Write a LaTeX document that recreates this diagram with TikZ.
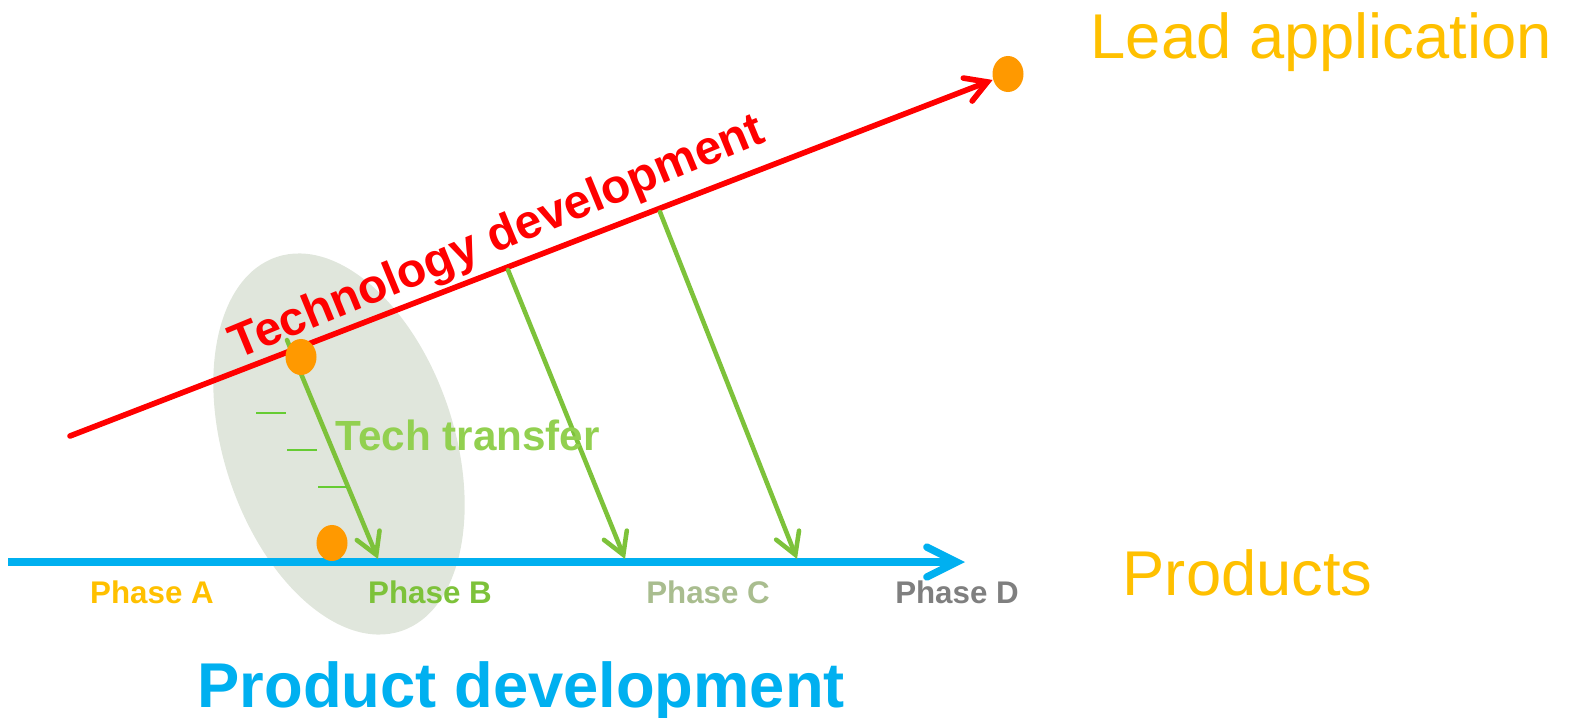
\documentclass[tikz,border=0pt]{standalone}
\usepackage{fontspec}
\setmainfont{Liberation Sans}
\usetikzlibrary{arrows.meta,shapes.geometric}
\definecolor{tred}{HTML}{FF0000}
\definecolor{pblue}{HTML}{00B0F0}
\definecolor{gold}{HTML}{FFC000}
\definecolor{dotorange}{HTML}{FF9900}
\definecolor{garrow}{HTML}{7DC23A}
\definecolor{gtext}{HTML}{92D050}
\definecolor{phB}{HTML}{7DC23A}
\definecolor{phC}{HTML}{A9BD8F}
\definecolor{phD}{HTML}{7F7F7F}
\definecolor{blob}{HTML}{E0E6DC}
\definecolor{dashg}{HTML}{66CC33}
\tikzset{
  dotnode/.style={ellipse, fill=dotorange, draw=none, minimum width=0.31cm, minimum height=0.36cm, inner sep=0pt},
  redarrow/.style={draw=tred, line width=1.6pt, line cap=round, -{Straight Barb[length=6pt,width=7pt,line cap=round]}},
  greenarrow/.style={draw=garrow, line width=1.3pt, line cap=round, -{Straight Barb[length=6pt,width=7pt,line cap=round]}},
  bluearrow/.style={draw=pblue, line width=2.1pt, -{Straight Barb[length=8.5pt,width=8.5pt,line cap=round]}},
  phaselbl/.style={font=\bfseries\fontsize{8.9pt}{10pt}\selectfont, anchor=base, inner sep=0pt},
  ticks/.style={draw=dashg, line width=0.6pt}
}
\begin{document}
\begin{tikzpicture}[x=0.01cm,y=-0.01cm]
\useasboundingbox (0,0) rectangle (1569,718);
% grey-green ellipse
\node[ellipse, fill=blob, draw=none, minimum width=3.94cm, minimum height=2.30cm, inner sep=0pt, rotate=-71.6] (blobnode) at (339,444) {};
% technology line
\coordinate (tstart) at (70,436);
\node[dotnode] (lead) at (1008,74) {};
\draw[redarrow] (tstart) -- (lead);
% product line
\coordinate (pstart) at (8,562);
\coordinate (pend) at (965,562);
\draw[bluearrow] (pstart) -- (pend);
% tech transfer arrows
\coordinate (g1s) at (287,340);
\coordinate (g1e) at (378,559);
\coordinate (g2s) at (508,270);
\coordinate (g2e) at (625,559);
\coordinate (g3s) at (660,212);
\coordinate (g3e) at (797,559);
\draw[greenarrow] (g1s) -- (g1e);
\draw[greenarrow] (g2s) -- (g2e);
\draw[greenarrow] (g3s) -- (g3e);
% small ticks
\draw[ticks] (256,413) -- (286,413);
\draw[ticks] (287,450) -- (317,450);
\draw[ticks] (318,487) -- (347,487);
% dots
\node[dotnode] (d1) at (301,357) {};
\node[dotnode] (d2) at (332,543) {};
% texts
\node[anchor=base west, inner sep=0pt, text=tred, font=\bfseries\fontsize{13.6pt}{15pt}\selectfont, rotate=22.4] (techdev) at (237,360) {Technology development};
\node[anchor=base west, inner sep=0pt, text=gtext, font=\bfseries\fontsize{12pt}{14pt}\selectfont] (transfer) at (335,450) {Tech transfer};
\node[anchor=base west, inner sep=0pt, text=gold, font=\fontsize{18pt}{20pt}\selectfont] (leadlbl) at (1090,58) {Lead application};
\node[anchor=base west, inner sep=0pt, text=gold, font=\fontsize{18pt}{20pt}\selectfont] (prodlbl) at (1122,595) {Products};
\node[anchor=base west, inner sep=0pt, text=pblue, font=\bfseries\fontsize{18pt}{20pt}\selectfont] (proddev) at (197,707) {Product development};
\node[phaselbl, text=gold] (pa) at (152,603) {Phase A};
\node[phaselbl, text=phB] (pb) at (430,603) {Phase B};
\node[phaselbl, text=phC] (pc) at (708,603) {Phase C};
\node[phaselbl, text=phD] (pd) at (957,603) {Phase D};
\end{tikzpicture}
\end{document}
